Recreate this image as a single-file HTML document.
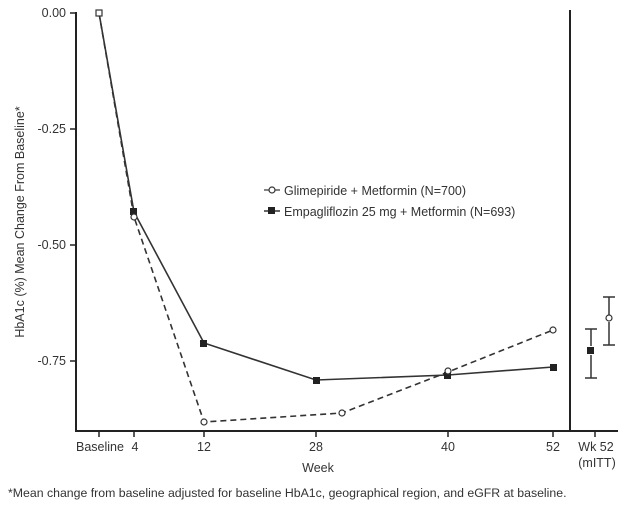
<!DOCTYPE html>
<html><head><style>
body{margin:0;background:#fff;}
svg text{font-family:"Liberation Sans",Arial,sans-serif;fill:#333;}
</style></head><body>
<svg width="629" height="510" viewBox="0 0 629 510" xmlns="http://www.w3.org/2000/svg">
<g stroke="#222" stroke-width="2" fill="none">
<line x1="76" y1="12" x2="76" y2="432"/>
<line x1="75" y1="431" x2="618" y2="431"/>
<line x1="570" y1="10" x2="570" y2="431"/>
</g>
<g stroke="#222" stroke-width="1.5">
<line x1="70" y1="13" x2="76" y2="13"/><line x1="70" y1="129" x2="76" y2="129"/>
<line x1="70" y1="245" x2="76" y2="245"/><line x1="70" y1="361" x2="76" y2="361"/>
<line x1="99" y1="431" x2="99" y2="437"/><line x1="134" y1="431" x2="134" y2="437"/>
<line x1="204" y1="431" x2="204" y2="437"/><line x1="316" y1="431" x2="316" y2="437"/>
<line x1="448" y1="431" x2="448" y2="437"/><line x1="553" y1="431" x2="553" y2="437"/>
<line x1="595" y1="431" x2="595" y2="437"/>
</g>
<g font-size="12.5" text-anchor="end">
<text x="66" y="17">0.00</text><text x="66" y="133">-0.25</text>
<text x="66" y="249">-0.50</text><text x="66" y="365">-0.75</text>
</g>
<g font-size="12.5" text-anchor="middle">
<text x="100" y="451">Baseline</text><text x="135" y="451">4</text>
<text x="204" y="451">12</text><text x="316" y="451">28</text>
<text x="448" y="451">40</text><text x="553" y="451">52</text>
<text x="596" y="451">Wk 52</text><text x="597" y="467">(mITT)</text>
<text x="318" y="472">Week</text>
</g>
<text font-size="12.5" text-anchor="middle" transform="translate(24,222) rotate(-90)">HbA1c (%) Mean Change From Baseline*</text>
<polyline points="99,13 134,217 204,422 342,413 448,372 553,330" fill="none" stroke="#333" stroke-width="1.6" stroke-dasharray="6,4"/>
<polyline points="99,13 134,212 204,343 316,380 448,375 553,367" fill="none" stroke="#333" stroke-width="1.6"/>
<g fill="#222">
<rect x="130" y="208" width="7" height="7"/><rect x="200" y="340" width="7" height="7"/>
<rect x="313" y="377" width="7" height="7"/><rect x="444" y="372" width="7" height="7"/>
<rect x="550" y="364" width="7" height="7"/><rect x="587" y="347" width="7" height="7"/>
</g>
<rect x="96" y="10" width="6" height="6" fill="#fff" stroke="#333" stroke-width="1.2"/>
<g fill="#fff" stroke="#333" stroke-width="1.2">
<circle cx="134" cy="217" r="3"/><circle cx="204" cy="422" r="3"/><circle cx="342" cy="413" r="3"/>
<circle cx="448" cy="371" r="3"/><circle cx="553" cy="330" r="3"/>
</g>
<g stroke="#333" stroke-width="1.5" fill="none">
<line x1="591" y1="329" x2="591" y2="346"/><line x1="591" y1="355" x2="591" y2="378"/>
<line x1="585" y1="329" x2="597" y2="329"/><line x1="585" y1="378" x2="597" y2="378"/>
<line x1="609" y1="297" x2="609" y2="315"/><line x1="609" y1="322" x2="609" y2="345"/>
<line x1="603" y1="297" x2="615" y2="297"/><line x1="603" y1="345" x2="615" y2="345"/>
<circle cx="609" cy="318" r="3" fill="#fff" stroke-width="1.2"/>
</g>
<line x1="264" y1="190" x2="280" y2="190" stroke="#333" stroke-width="1.2"/>
<circle cx="272" cy="190" r="3" fill="#fff" stroke="#333" stroke-width="1.2"/>
<line x1="264" y1="211" x2="280" y2="211" stroke="#333" stroke-width="1.5"/>
<rect x="268" y="207" width="7" height="7" fill="#222"/>
<g font-size="12.5">
<text x="284" y="195">Glimepiride + Metformin (N=700)</text>
<text x="284" y="216">Empagliflozin 25 mg + Metformin (N=693)</text>
</g>
<text x="8" y="497" font-size="12.3">*Mean change from baseline adjusted for baseline HbA1c, geographical region, and eGFR at baseline.</text>
</svg>
</body></html>
